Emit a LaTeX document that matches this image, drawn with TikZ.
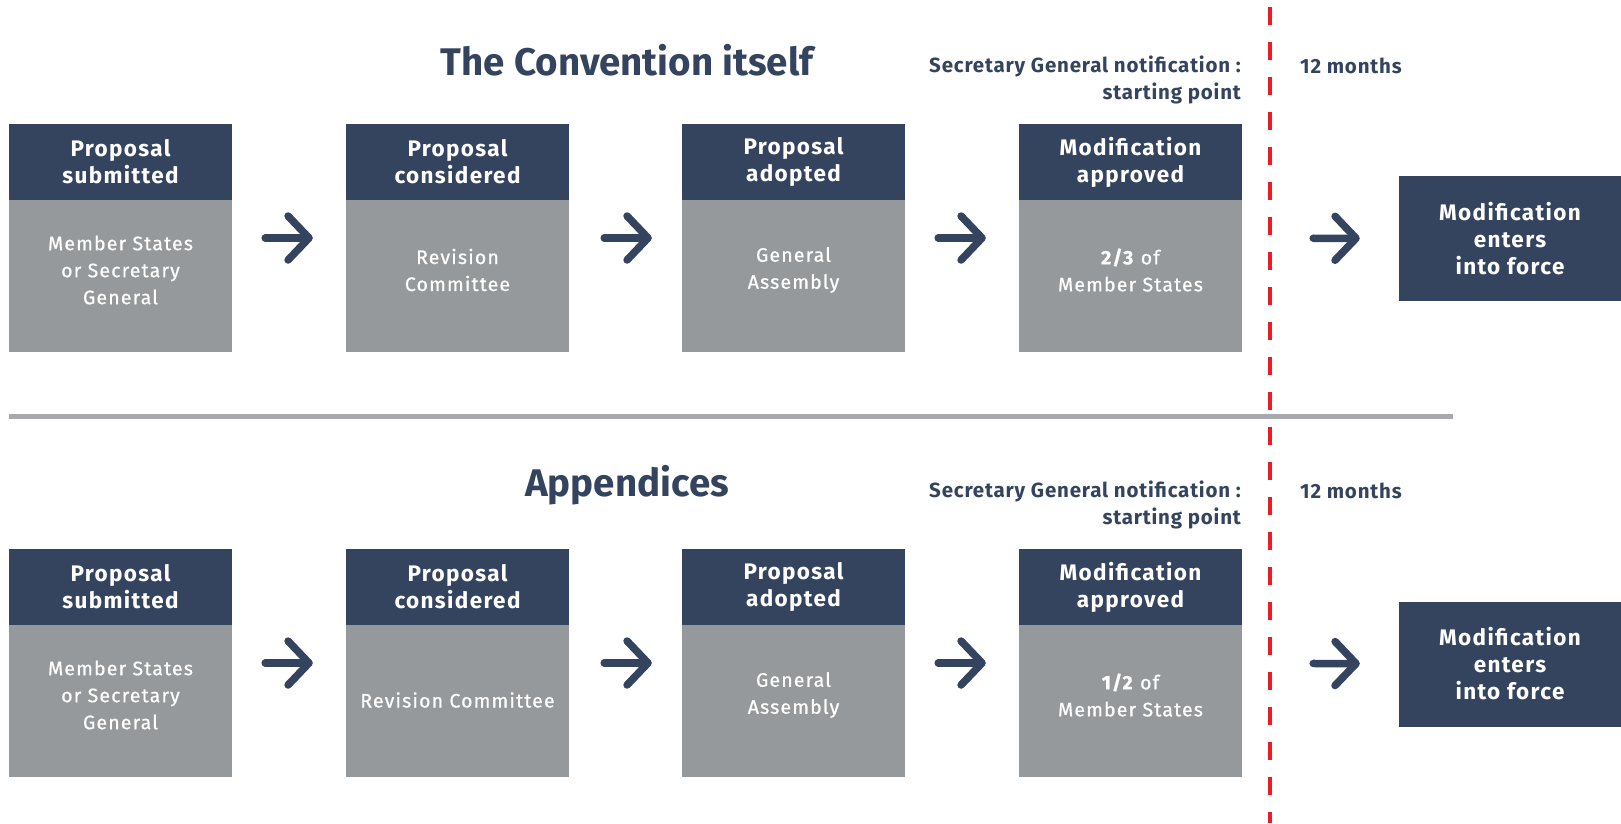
\documentclass[tikz,border=0pt]{standalone}
\usepackage{fontspec}
\setmainfont{Fira Sans}
\newfontfamily\medfont{Fira Sans}[FakeBold=0.7, LetterSpace=6]
\newfontfamily\hdrfont{Fira Sans}[LetterSpace=6]
\newfontfamily\notefont{Fira Sans}[LetterSpace=4]
\usetikzlibrary{arrows.meta,calc}
\definecolor{navy}{RGB}{52,68,94}
\definecolor{boxgray}{RGB}{150,153,155}
\definecolor{linegray}{RGB}{167,169,172}
\definecolor{dashred}{RGB}{237,28,36}
\tikzset{
  stagebox/.style={fill=boxgray, draw=none, minimum width=223pt, minimum height=228pt, inner sep=0pt},
  hdr/.style={fill=navy, draw=none, minimum width=223pt, minimum height=76pt, inner sep=0pt, anchor=north,
    text=white, align=center, font=\hdrfont\bfseries\fontsize{22.5}{27}\selectfont},
  bodytext/.style={text=white, align=center, inner sep=0pt, font=\medfont\fontsize{19.5}{27}\selectfont},
  finalbox/.style={fill=navy, draw=none, minimum width=222pt, minimum height=125pt, inner sep=0pt,
    text=white, align=center, font=\hdrfont\bfseries\fontsize{22.5}{27}\selectfont},
  title/.style={text=navy, font=\bfseries\fontsize{38.5}{44}\selectfont, inner sep=0pt},
  note/.style={text=navy, font=\notefont\bfseries\fontsize{20.5}{27}\selectfont, inner sep=0pt},
  conn/.style={draw=navy, line width=7.5pt, line cap=round,
    -{Straight Barb[length=21pt, width=44pt, round]}},
  sep/.style={draw=linegray, line width=5pt},
  reddash/.style={draw=dashred, line width=4pt, dash pattern=on 18pt off 17pt, dash phase=28pt}
}
\begin{document}
\begin{tikzpicture}[x=1pt,y=-1pt]
\useasboundingbox (0,0) rectangle (1621,823);

% titles
\node[title] (t1) at (627,60) {The Convention itself};
\node[title] (t2) at (627,485) {Appendices};

% notes
\node[note, anchor=east, align=right] (n1) at (1241,80) {Secretary General notification :\\starting point};
\node[note, anchor=west] (m1) at (1300,66) {12 months};
\node[note, anchor=east, align=right] (n2) at (1241,505) {Secretary General notification :\\starting point};
\node[note, anchor=west] (m2) at (1300,491) {12 months};

% separator
\coordinate (sepL) at (9,416);
\coordinate (sepR) at (1453,416);
\draw[sep] (sepL) -- (sepR);

% row 1
\node[stagebox] (a1) at (120.5,238) {};
\node[stagebox] (a2) at (457.5,238) {};
\node[stagebox] (a3) at (793.5,238) {};
\node[stagebox] (a4) at (1130.5,238) {};
\node[hdr] (ah1) at (a1.north) {Proposal\\submitted};
\node[hdr] (ah2) at (a2.north) {Proposal\\considered};
\node[hdr] (ah3) at (a3.north) {Proposal\\adopted};
\node[hdr] (ah4) at (a4.north) {Modification\\approved};
\node[bodytext] (ab1) at ($(a1.center)+(0,32)$) {Member States\\or Secretary\\General};
\node[bodytext] (ab2) at ($(a2.center)+(0,32)$) {Revision\\Committee};
\node[bodytext] (ab3) at ($(a3.center)+(0,32)$) {General\\Assembly};
\node[bodytext] (ab4) at ($(a4.center)+(0,32)$) {\textbf{2/3} of\\Member States};
\node[finalbox] (af) at (1510,238.5) {Modification\\enters\\into force};

\draw[conn, shorten <=33pt, shorten >=33pt] (a1) -- (a2);
\draw[conn, shorten <=35pt, shorten >=30pt] (a2) -- (a3);
\draw[conn, shorten <=33pt, shorten >=33pt] (a3) -- (a4);
\draw[conn, shorten <=71pt, shorten >=39pt] (a4) -- (af);

% row 2
\node[stagebox] (b1) at (120.5,663) {};
\node[stagebox] (b2) at (457.5,663) {};
\node[stagebox] (b3) at (793.5,663) {};
\node[stagebox] (b4) at (1130.5,663) {};
\node[hdr] (bh1) at (b1.north) {Proposal\\submitted};
\node[hdr] (bh2) at (b2.north) {Proposal\\considered};
\node[hdr] (bh3) at (b3.north) {Proposal\\adopted};
\node[hdr] (bh4) at (b4.north) {Modification\\approved};
\node[bodytext] (bb1) at ($(b1.center)+(0,32)$) {Member States\\or Secretary\\General};
\node[bodytext] (bb2) at ($(b2.center)+(0,37)$) {Revision Committee};
\node[bodytext] (bb3) at ($(b3.center)+(0,32)$) {General\\Assembly};
\node[bodytext] (bb4) at ($(b4.center)+(0,32)$) {\textbf{1/2} of\\Member States};
\node[finalbox] (bf) at (1510,664) {Modification\\enters\\into force};

\draw[conn, shorten <=33pt, shorten >=33pt] (b1) -- (b2);
\draw[conn, shorten <=35pt, shorten >=30pt] (b2) -- (b3);
\draw[conn, shorten <=33pt, shorten >=33pt] (b3) -- (b4);
\draw[conn, shorten <=71pt, shorten >=39pt] (b4) -- (bf);

% red dashed line
\coordinate (rtop) at (1270,0);
\coordinate (rbot) at (1270,823);
\draw[reddash] (rtop) -- (rbot);
\end{tikzpicture}
\end{document}
